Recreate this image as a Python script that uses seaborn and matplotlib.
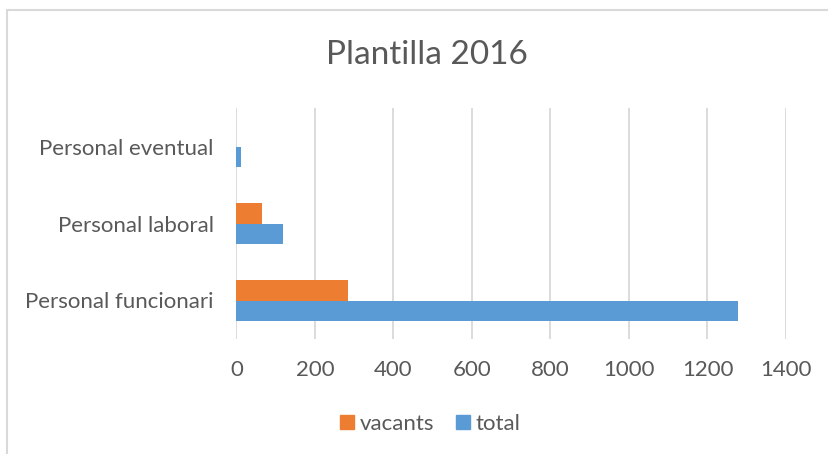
import matplotlib
matplotlib.use("Agg")
import matplotlib.pyplot as plt
import seaborn as sns
import pandas as pd
from matplotlib.lines import Line2D

categories = ["Personal eventual", "Personal laboral", "Personal funcionari"]
vacants = [0, 65, 284]
total = [11, 119, 1277]
series_names = ["vacants", "total"]
colors = {"vacants": "#ED7D31", "total": "#5B9BD5"}
x_ticks = [0, 200, 400, 600, 800, 1000, 1200, 1400]

rows = []
for c, v, t in zip(categories, vacants, total):
    rows.append({"cat": c, "serie": "vacants", "val": v})
    rows.append({"cat": c, "serie": "total", "val": t})
df = pd.DataFrame(rows)

sns.set_theme(style="white")
plt.rcParams["font.family"] = ["Lato", "DejaVu Sans"]
txt = "#595959"

W, H = 829, 454
fig = plt.figure(figsize=(W / 100, H / 100), dpi=100)
ax = fig.add_axes([236.5 / W, (H - 339) / H, (786 - 236.5) / W, (339 - 108) / H])

sns.barplot(data=df, x="val", y="cat", hue="serie", order=categories,
            hue_order=series_names, palette=colors, orient="h",
            width=0.52, gap=0, saturation=1, edgecolor="none", ax=ax, legend=False)

ax.set_xlim(0, 1400)
ax.set_xticks(x_ticks)
ax.set_xticklabels([str(t) for t in x_ticks])
ax.xaxis.grid(True, color="#D9D9D9", linewidth=1.3)
ax.set_axisbelow(True)
for s in ax.spines.values():
    s.set_visible(False)
ax.set_xlabel("")
ax.set_ylabel("")
ax.tick_params(axis="x", colors=txt, labelsize=16, length=0, pad=15)
ax.tick_params(axis="y", colors=txt, labelsize=16, length=0, pad=16.5)
for lab in ax.get_xticklabels() + ax.get_yticklabels():
    lab.set_color(txt)

fig.text(427 / W, 1 - 55 / H, "Plantilla 2016", ha="center", va="center",
         fontsize=24, color=txt)

handles = [Line2D([], [], marker="s", linestyle="none", markersize=10,
                  markerfacecolor=colors[s], markeredgecolor=colors[s]) for s in series_names]
fig.legend(handles, series_names, loc="center", bbox_to_anchor=(428 / W, 1 - 424 / H),
           ncol=2, frameon=False, fontsize=16, labelcolor=txt, handletextpad=0.05,
           columnspacing=0.8, handlelength=1.0)

# chart area border (top and left visible)
fig.add_artist(Line2D([7.5 / W, 1.0], [1 - 9.5 / H, 1 - 9.5 / H], color="#D9D9D9", linewidth=1.5))
fig.add_artist(Line2D([7.5 / W, 7.5 / W], [1 - 9.5 / H, 0.0], color="#D9D9D9", linewidth=1.5))

fig.savefig("out.png", dpi=100, facecolor="white")
